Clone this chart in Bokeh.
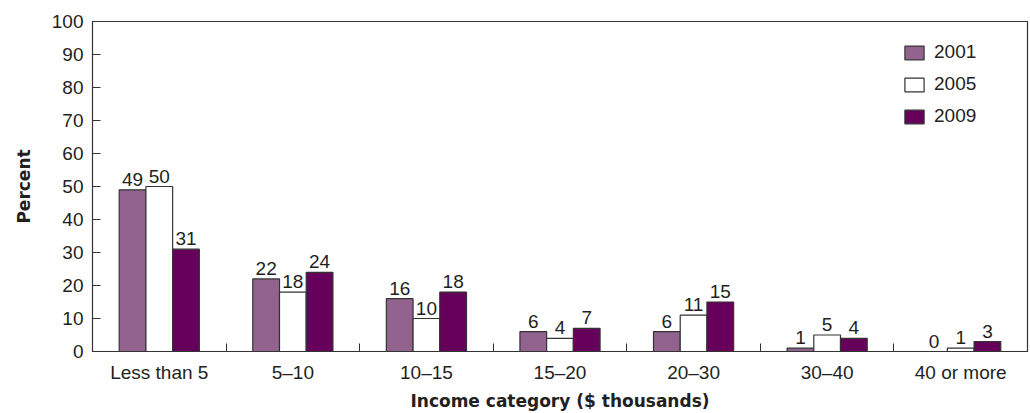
from bokeh.plotting import figure
from bokeh.models import Range1d, FixedTicker, ColumnDataSource, Legend, LegendItem
from bokeh.transform import dodge
from bokeh.core.properties import value
from bokeh.embed import file_html
from bokeh.resources import INLINE

# Share of households by income category (percent)
categories = ["Less than 5", "5\u201310", "10\u201315", "15\u201320", "20\u201330", "30\u201340", "40 or more"]
years = ["2001", "2005", "2009"]
pct_2001 = [49, 22, 16, 6, 6, 1, 0]
pct_2005 = [50, 18, 10, 4, 11, 5, 1]
pct_2009 = [31, 24, 18, 7, 15, 4, 3]
y_ticks = [0, 10, 20, 30, 40, 50, 60, 70, 80, 90, 100]

series = {"2001": pct_2001, "2005": pct_2005, "2009": pct_2009}
fills = {"2001": "#93638f", "2005": "#ffffff", "2009": "#66005a"}
offsets = {"2001": -0.2, "2005": 0.0, "2009": 0.2}

TEXT = "#231f20"
LINE = "#333333"
FONT = "Liberation Sans"
BOLD_FONT = "DejaVu Sans"

centers = [i + 0.5 for i in range(len(categories))]

p = figure(width=1030, height=413, output_backend="svg", toolbar_location=None,
           x_range=Range1d(0, len(categories)), y_range=Range1d(0, 100),
           min_border_left=92, min_border_right=3, min_border_top=21, min_border_bottom=62)

p.background_fill_color = "white"
p.border_fill_color = "white"
p.outline_line_color = LINE
p.outline_line_width = 1.2
p.xgrid.visible = False
p.ygrid.visible = False

items = []
for yr in years:
    src = ColumnDataSource(dict(center=centers, pct=series[yr],
                                label=[str(v) for v in series[yr]]))
    r = p.vbar(x=dodge("center", offsets[yr]), top="pct", width=0.2, source=src,
               fill_color=fills[yr], line_color=LINE, line_width=1.2)
    items.append(LegendItem(label=yr, renderers=[r]))
    p.text(x=dodge("center", offsets[yr]), y="pct", text="label", source=src,
           text_align="center", text_baseline="bottom", y_offset=-4,
           text_font=value(FONT), text_font_size="19px", text_color=TEXT)

# Y axis: ticks pointing into the frame
p.yaxis.ticker = FixedTicker(ticks=y_ticks)
p.yaxis.major_tick_in = 8
p.yaxis.major_tick_out = 0
p.yaxis.minor_tick_line_color = None
p.yaxis.axis_line_color = LINE
p.yaxis.major_tick_line_color = LINE
p.yaxis.major_label_text_font = FONT
p.yaxis.major_label_text_font_size = "19px"
p.yaxis.major_label_text_color = TEXT
p.yaxis.major_label_standoff = 9
p.yaxis.axis_label = "Percent"
p.yaxis.axis_label_text_font = BOLD_FONT
p.yaxis.axis_label_text_font_style = "bold"
p.yaxis.axis_label_text_font_size = "17px"
p.yaxis.axis_label_text_color = TEXT
p.yaxis.axis_label_standoff = 15

# X axis: labels at category centres, short upward ticks between categories
p.xaxis.ticker = FixedTicker(ticks=centers, minor_ticks=list(range(1, len(categories))))
p.xaxis.major_label_overrides = {c: name for c, name in zip(centers, categories)}
p.xaxis.major_tick_line_color = None
p.xaxis.major_tick_in = 0
p.xaxis.major_tick_out = 0
p.xaxis.minor_tick_in = 8
p.xaxis.minor_tick_out = 0
p.xaxis.minor_tick_line_color = LINE
p.xaxis.axis_line_color = LINE
p.xaxis.major_label_text_font = FONT
p.xaxis.major_label_text_font_size = "19px"
p.xaxis.major_label_text_color = TEXT
p.xaxis.major_label_text_line_height = 1.0
p.xaxis.major_label_standoff = 10
p.xaxis.axis_label = "Income category ($ thousands)"
p.xaxis.axis_label_text_font = BOLD_FONT
p.xaxis.axis_label_text_font_style = "bold"
p.xaxis.axis_label_text_font_size = "17px"
p.xaxis.axis_label_text_color = TEXT
p.xaxis.axis_label_text_line_height = 1.0
p.xaxis.axis_label_standoff = 5

legend = Legend(items=items, location=(810, 224), orientation="vertical",
                padding=0, margin=0, spacing=10,
                glyph_width=24, glyph_height=17, label_height=17, label_standoff=8,
                label_text_font=FONT, label_text_font_size="19px", label_text_color=TEXT,
                border_line_color=None, background_fill_alpha=0)
p.add_layout(legend)

open("out.html", "w").write(file_html(p, INLINE))
